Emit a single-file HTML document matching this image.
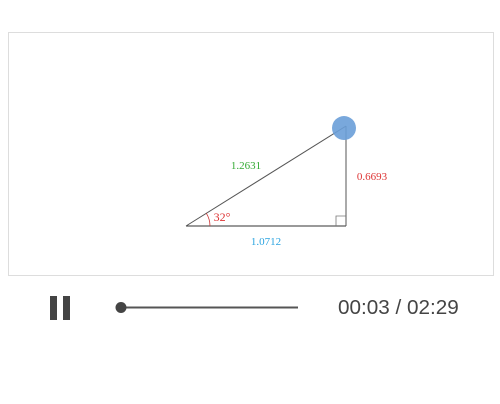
<!DOCTYPE html>
<html><head><meta charset="utf-8"><style>
body{margin:0;width:500px;height:404px;background:#fff;overflow:hidden;font-family:"Liberation Sans",sans-serif}
#frame{position:absolute;left:8px;top:32px;width:484px;height:242px;border:1px solid #ddd}
.bar{position:absolute;top:296px;width:7px;height:24px;background:#444}
#time{position:absolute;left:338px;top:296px;font-size:20.7px;color:#444}
</style></head><body>
<div id="frame"></div>
<svg id="chart" width="500" height="404" style="position:absolute;left:0;top:0"></svg>
<div>
<div class="bar" style="left:50px"></div>
<div class="bar" style="left:63px"></div></div>
<svg style="position:absolute;left:0;top:0" width="500" height="404">
<line x1="121" y1="307.5" x2="298" y2="307.5" stroke="#555" stroke-width="2"/>
<circle cx="121" cy="307.5" r="5.5" fill="#444"/>
</svg>
<div id="time">00:03 / 02:29</div>
<script>
const angleDeg=[32];
const sides=[1.0712,0.6693,1.2631]; // adjacent, opposite, hypotenuse
const sideLabels=["1.0712","0.6693","1.2631"];
const ox=186, oy=226, scale=160/1.0712;
const X=v=>ox+v*scale, Y=v=>oy-v*scale;
const s=document.getElementById('chart'), NS="http://www.w3.org/2000/svg";
function mk(t,a){const e=document.createElementNS(NS,t);for(const k in a)e.setAttribute(k,a[k]);s.appendChild(e);return e;}
const ax=X(sides[0]), ay=Y(sides[1]);
let e;
e=mk('line',{x1:ox,y1:oy,x2:ax,y2:oy,stroke:'#333','stroke-width':1});

e=mk('line',{x1:ax,y1:oy,x2:ax,y2:ay,stroke:'#555','stroke-width':1});

e=mk('line',{x1:ox,y1:oy,x2:ax,y2:ay,stroke:'#555','stroke-width':1});

e=mk('path',{d:`M${ax-10},${oy} V${oy-10} H${ax}`,fill:'none',stroke:'#777','stroke-width':0.8});

const r=24,a=angleDeg[0]*Math.PI/180;
e=mk('path',{d:`M${ox+r},${oy} A${r},${r} 0 0 0 ${ox+r*Math.cos(a)},${oy-r*Math.sin(a)}`,fill:'none',stroke:'#c33','stroke-width':0.8});

function txt(x,y,str,c,sz,name){const t=mk('text',{x:x,y:y,fill:c,'font-size':sz,'font-family':'Liberation Serif, serif','text-anchor':'middle'});t.textContent=str;}
txt(222,221,angleDeg[0]+"°","#d33",12,'angle-label');
txt((ox+ax)/2,245,sideLabels[0],"#29a3e0",11,'adjacent-label');
txt(ax+26,(oy+ay)/2+4,sideLabels[1],"#d33",11,'opposite-label');
txt((ox+ax)/2-20,(oy+ay)/2-7,sideLabels[2],"#3a3",11,'hypotenuse-label');
e=mk('circle',{cx:ax-2,cy:ay+2,r:12,fill:'#6a9fd8','fill-opacity':0.9});

</script>
</body></html>
